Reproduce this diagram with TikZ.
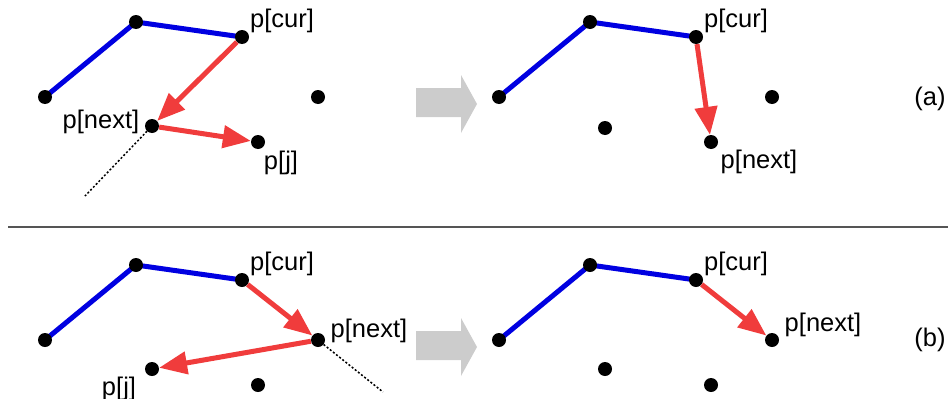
\documentclass[tikz,border=0pt]{standalone}
\usepackage{fontspec}
\setmainfont{Liberation Sans}
\usetikzlibrary{arrows.meta,backgrounds}
\definecolor{polyblue}{RGB}{0,0,225}
\definecolor{stepred}{RGB}{240,60,60}
\definecolor{shiftgray}{RGB}{204,204,204}
\definecolor{rulegray}{RGB}{85,85,85}
\begin{document}
\begin{tikzpicture}[x=1pt,y=-1pt,
  dot/.style={circle,fill=black,inner sep=0pt,minimum size=14pt},
  hull/.style={draw=polyblue,line width=5pt},
  stepline/.style={draw=stepred,line width=5pt,-{Triangle[length=28pt,width=22pt]}},
  extline/.style={draw=black,line width=1.5pt,dash pattern=on 2pt off 2pt},
  lbl/.style={inner sep=0pt,font=\fontsize{25.5}{29}\selectfont},
  shiftarrow/.style={fill=shiftgray,draw=none}]
\useasboundingbox (0,0) rectangle (948,399);

% ---------- (a) left ----------
\node[dot] (la1) at (45,97) {};
\node[dot] (la2) at (136,22) {};
\node[dot] (la3) at (242,37) {};
\node[dot] (la4) at (318,97) {};
\node[dot] (lan) at (152,126) {};
\node[dot] (laj) at (258,142) {};
\coordinate (laext) at (85,196);
\begin{scope}[on background layer]
  \draw[hull] (la1.center) -- (la2.center) -- (la3.center);
\end{scope}
\draw[stepline] (la3) -- (lan);
\draw[stepline] (lan) -- (laj);
\draw[extline] (lan) -- (laext);
\node[lbl] (tlacur) at (282,21) {p[cur]};
\node[lbl] (tlanext) at (101,122) {p[next]};
\node[lbl] (tlaj) at (281,163) {p[j]};

% ---------- (a) right ----------
\node[dot] (ra1) at (499,97) {};
\node[dot] (ra2) at (590,22) {};
\node[dot] (ra3) at (696,37) {};
\node[dot] (ra4) at (772,97) {};
\node[dot] (ra5) at (605,128) {};
\node[dot] (ran) at (711,142) {};
\begin{scope}[on background layer]
  \draw[hull] (ra1.center) -- (ra2.center) -- (ra3.center);
\end{scope}
\draw[stepline] (ra3) -- (ran);
\node[lbl] (tracur) at (736,21) {p[cur]};
\node[lbl] (tranext) at (759,162) {p[next]};
\node[lbl] (ta) at (930,99) {(a)};

% shift arrow (a)
\path[shiftarrow] (416,88) -- (461,88) -- (461,75) -- (477,104) -- (461,133) -- (461,117) -- (416,117) -- cycle;

% ---------- divider ----------
\coordinate (divl) at (8,227);
\coordinate (divr) at (948,227);
\draw[rulegray,line width=1.5pt] (divl) -- (divr);

% ---------- (b) left ----------
\node[dot] (lb1) at (45,340) {};
\node[dot] (lb2) at (136,265) {};
\node[dot] (lb3) at (242,280) {};
\node[dot] (lbn) at (318,340) {};
\node[dot] (lbj) at (152,369) {};
\node[dot] (lb6) at (258,385) {};
\coordinate (lbext) at (383,392);
\begin{scope}[on background layer]
  \draw[hull] (lb1.center) -- (lb2.center) -- (lb3.center);
\end{scope}
\draw[stepline] (lb3) -- (lbn);
\draw[stepline] (lbn) -- (lbj);
\draw[extline] (lbn) -- (lbext);
\node[lbl] (tlbcur) at (282,264) {p[cur]};
\node[lbl] (tlbnext) at (369,331) {p[next]};
\node[lbl] (tlbj) at (119,389) {p[j]};

% ---------- (b) right ----------
\node[dot] (rb1) at (499,340) {};
\node[dot] (rb2) at (590,265) {};
\node[dot] (rb3) at (696,280) {};
\node[dot] (rbn) at (772,340) {};
\node[dot] (rb5) at (605,369) {};
\node[dot] (rb6) at (711,385) {};
\begin{scope}[on background layer]
  \draw[hull] (rb1.center) -- (rb2.center) -- (rb3.center);
\end{scope}
\draw[stepline] (rb3) -- (rbn);
\node[lbl] (trbcur) at (736,264) {p[cur]};
\node[lbl] (trbnext) at (823,325) {p[next]};
\node[lbl] (tb) at (930,340) {(b)};

% shift arrow (b)
\path[shiftarrow] (416,331) -- (461,331) -- (461,318) -- (477,347) -- (461,376) -- (461,360) -- (416,360) -- cycle;
\end{tikzpicture}
\end{document}
